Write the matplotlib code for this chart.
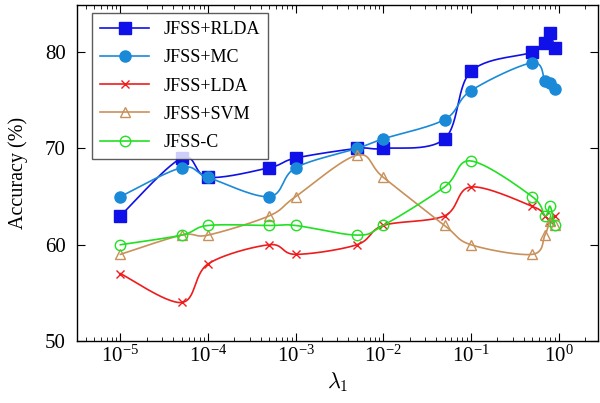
import numpy as np
import matplotlib.pyplot as plt
from matplotlib.ticker import LogLocator, NullFormatter, FixedLocator

plt.rcParams['font.family'] = ['Liberation Serif', 'DejaVu Serif']
plt.rcParams['mathtext.fontset'] = 'cm'

lam = [1e-5, 5e-5, 1e-4, 5e-4, 1e-3, 5e-3, 1e-2, 5e-2, 1e-1, 0.5, 0.7, 0.8, 0.9]
rlda = [63, 69, 67, 68, 69, 70, 70, 71, 78, 80, 81, 82, 80.4]
mc = [65, 68, 67, 65, 68, 70, 71, 73, 76, 78.9, 77, 76.8, 76.2]
lda = [57, 54, 58, 60, 59, 60, 62, 63, 66, 64, 63, 62.5, 63]
svm = [59, 61, 61, 63, 65, 69.3, 67, 62, 60, 59, 61, 62.5, 62]
jc = [60, 61, 62, 62, 62, 61, 62, 66, 68.7, 65, 63, 64, 62]


def smooth(x, y, n=30, t=0.5):
    # catmull-rom through the points in (log x, y) space
    lx = np.log10(x)
    px = np.concatenate([[lx[0]], lx, [lx[-1]]])
    py = np.concatenate([[y[0]], y, [y[-1]]])
    xs, ys = [], []
    for i in range(1, len(px) - 2):
        p0x, p1x, p2x, p3x = px[i - 1:i + 3]
        p0y, p1y, p2y, p3y = py[i - 1:i + 3]
        m1x, m1y = t * (p2x - p0x), t * (p2y - p0y)
        m2x, m2y = t * (p3x - p1x), t * (p3y - p1y)
        s = np.linspace(0, 1, n)
        h00 = 2 * s**3 - 3 * s**2 + 1
        h10 = s**3 - 2 * s**2 + s
        h01 = -2 * s**3 + 3 * s**2
        h11 = s**3 - s**2
        xs.append(h00 * p1x + h10 * m1x + h01 * p2x + h11 * m2x)
        ys.append(h00 * p1y + h10 * m1y + h01 * p2y + h11 * m2y)
    return 10 ** np.concatenate(xs), np.concatenate(ys)


fig = plt.figure(figsize=(6, 4.03), dpi=100)
ax = fig.add_axes([77 / 600, 62 / 403, 521 / 600, 336 / 403])

series = [
    ('JFSS+RLDA', rlda, '#1010e8', dict(marker='s', ms=8.5, mfc='#1010e8')),
    ('JFSS+MC', mc, '#1a8ad8', dict(marker='o', ms=8, mfc='#1a8ad8')),
    ('JFSS+LDA', lda, '#ee1c1c', dict(marker='x', ms=5.5, mew=1.0)),
    ('JFSS+SVM', svm, '#c8915a', dict(marker='^', ms=7, mfc='none', mew=1.0)),
    ('JFSS-C', jc, '#22e022', dict(marker='o', ms=7.5, mfc='none', mew=1.0)),
]

for name, vals, col, mk in series:
    sx, sy = smooth(lam, vals)
    ax.plot(sx, sy, color=col, lw=1.2)
    ax.plot(lam, vals, ls='none', color=col, mec=col, **mk)
    ax.plot([], [], color=col, lw=1.2, mec=col, label=name, **mk)

ax.set_xscale('log')
ax.set_xlim(10 ** -5.495, 10 ** 0.45)
ax.set_ylim(50, 84.9)
ax.yaxis.set_major_locator(FixedLocator([50, 60, 70, 80]))
ax.xaxis.set_major_locator(LogLocator(base=10, numticks=12))
ax.xaxis.set_minor_locator(LogLocator(base=10, subs=np.arange(2, 10), numticks=12))
ax.xaxis.set_minor_formatter(NullFormatter())
ax.tick_params(which='both', direction='in', top=True, right=True, labelsize=15)
ax.tick_params(which='major', length=6, width=0.8)
ax.tick_params(which='minor', length=3, width=0.6)
ax.tick_params(axis='y', which='minor', left=False, right=False)
ax.tick_params(axis='y', pad=8)
for s in ax.spines.values():
    s.set_linewidth(1.0)

ax.set_xlabel(r'$\lambda_1$', fontsize=16, labelpad=2)
ax.set_ylabel('Accuracy (%)', fontsize=14.5, labelpad=12)

leg = ax.legend(loc='upper left', bbox_to_anchor=(0.029, 0.976), fontsize=13,
                frameon=True, fancybox=False, edgecolor='#333333',
                handlelength=2.7, handletextpad=0.8, labelspacing=0.62,
                borderpad=0.45, borderaxespad=0)
leg.get_frame().set_linewidth(1.0)

fig.savefig('out.png', dpi=100)
